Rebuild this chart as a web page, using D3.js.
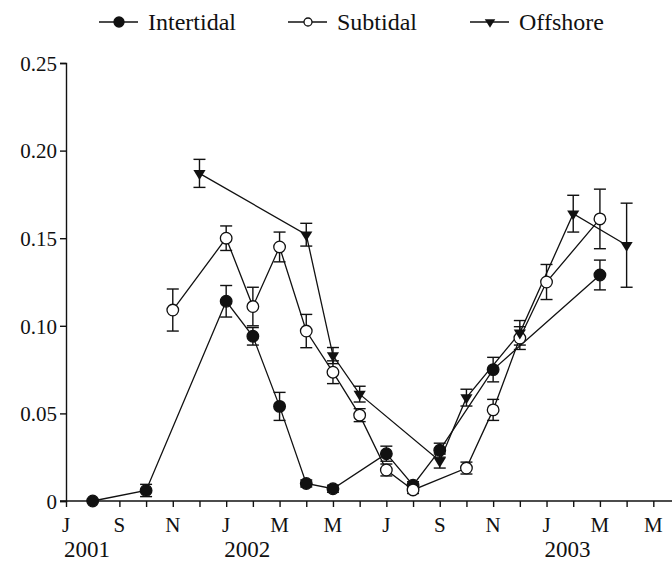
<!DOCTYPE html>
<html>
<head>
<meta charset="utf-8">
<script src="https://cdn.jsdelivr.net/npm/d3@7"></script>
<style>
  body { margin: 0; background: #fff; }
</style>
</head>
<body>
<div id="chart"></div>
<script>
// months counted from Jul 2001 (0)
var start = [2001, 7];
var serif = "Liberation Serif, DejaVu Serif, Tinos, Times New Roman, serif";

var seriesNames = ["Intertidal", "Subtidal", "Offshore"];

var intertidalMonths = ["2001-08", "2001-10", "2002-01", "2002-02", "2002-03", "2002-04", "2002-05", "2002-07", "2002-08", "2002-09", "2002-11", "2003-03"];
var intertidalValues = [0, 0.006, 0.114, 0.094, 0.054, 0.010, 0.007, 0.027, 0.009, 0.029, 0.075, 0.129];
var intertidalErrors = [0, 0.0035, 0.009, 0.005, 0.008, 0.002, 0.002, 0.0043, 0.002, 0.004, 0.007, 0.0085];

var subtidalMonths = ["2001-11", "2002-01", "2002-02", "2002-03", "2002-04", "2002-05", "2002-06", "2002-07", "2002-08", "2002-10", "2002-11", "2002-12", "2003-01", "2003-03"];
var subtidalValues = [0.109, 0.150, 0.111, 0.145, 0.097, 0.0735, 0.049, 0.0177, 0.0063, 0.0188, 0.052, 0.093, 0.125, 0.161];
var subtidalErrors = [0.012, 0.007, 0.011, 0.0085, 0.0095, 0.0065, 0.0037, 0.0034, 0.002, 0.0034, 0.006, 0.0065, 0.010, 0.017];

var offshoreMonths = ["2001-12", "2002-04", "2002-05", "2002-06", "2002-09", "2002-10", "2002-12", "2003-02", "2003-04"];
var offshoreValues = [0.187, 0.152, 0.083, 0.061, 0.0228, 0.059, 0.096, 0.164, 0.146];
var offshoreErrors = [0.008, 0.0065, 0.0046, 0.0045, 0.004, 0.0048, 0.007, 0.0105, 0.024];

var monthLetters = ["J", "S", "N", "J", "M", "M", "J", "S", "N", "J", "M", "M"];
var yearLabels = ["2001", "2002", "2003"];
var yearMonths = [0, 6, 18];
var yTicks = [0, 0.05, 0.10, 0.15, 0.20, 0.25];

function monthIndex(s) {
    var p = s.split("-");
    return (+p[0] - start[0]) * 12 + (+p[1] - start[1]);
}

function build(months, values, errors) {
    return months.map(function (m, i) {
        return { m: monthIndex(m), v: values[i], e: errors[i] };
    });
}

var series = [
    { name: "Intertidal", type: "filled", data: build(intertidalMonths, intertidalValues, intertidalErrors) },
    { name: "Subtidal", type: "open", data: build(subtidalMonths, subtidalValues, subtidalErrors) },
    { name: "Offshore", type: "tri", data: build(offshoreMonths, offshoreValues, offshoreErrors) }
];

var width = 672, height = 561;

var svg = d3.select("#chart").append("svg")
    .attr("width", width)
    .attr("height", height)
    .attr("font-family", serif);

var x = d3.scaleLinear().domain([0, 22.7]).range([66, 672]);
var y = d3.scaleLinear().domain([0, 0.25]).range([501, 63]);

// y axis
var yAxis = svg.append("g")
    .attr("transform", "translate(66,0)")
    .call(d3.axisLeft(y).tickValues(yTicks).tickSize(6).tickPadding(3)
        .tickFormat(function (d) { return d === 0 ? "0" : d3.format(".2f")(d); }));
yAxis.attr("font-family", serif).attr("font-size", 21);
yAxis.selectAll("text").attr("dy", "0.35em");

// x axis: a tick every month, labels every two months
var xAxis = svg.append("g")
    .attr("transform", "translate(0,501)")
    .call(d3.axisBottom(x).tickValues(d3.range(0, 23)).tickSize(6).tickFormat(""));
xAxis.select(".domain").attr("d", "M60,0H672");

svg.append("g").selectAll("text")
    .data(monthLetters)
    .enter()
    .append("text")
    .attr("x", function (d, i) { return x(i * 2); })
    .attr("y", 532)
    .attr("text-anchor", "middle")
    .attr("font-size", 21)
    .text(function (d) { return d; });

svg.append("g").selectAll("text")
    .data(yearLabels)
    .enter()
    .append("text")
    .attr("x", function (d, i) { return x(yearMonths[i]) - 2; })
    .attr("y", 557)
    .attr("font-size", 23)
    .text(function (d) { return d; });

svg.selectAll(".domain, .tick line").attr("stroke", "#111").attr("stroke-width", 1.4);

var line = d3.line()
    .x(function (d) { return x(d.m); })
    .y(function (d) { return y(d.v); });

// lines
svg.append("g").selectAll("path")
    .data(series)
    .enter()
    .append("path")
    .attr("d", function (s) { return line(s.data); })
    .attr("fill", "none")
    .attr("stroke", "#111")
    .attr("stroke-width", 1.3);

// error bars
series.forEach(function (s) {
    var g = svg.append("g").attr("stroke", "#111").attr("stroke-width", 1.4);
    s.data.filter(function (d) { return d.e > 0; }).forEach(function (d) {
        var cx = x(d.m), top = y(d.v + d.e), bot = y(d.v - d.e);
        g.append("line").attr("x1", cx).attr("x2", cx).attr("y1", top).attr("y2", bot);
        g.append("line").attr("x1", cx - 6).attr("x2", cx + 6).attr("y1", top).attr("y2", top);
        g.append("line").attr("x1", cx - 6).attr("x2", cx + 6).attr("y1", bot).attr("y2", bot);
    });
});

function marker(g, type, cx, cy, r) {
    if (type === "tri") {
        var w = r * 1.05, h = r * 1.7;
        g.append("path")
            .attr("d", "M" + (cx - w) + "," + (cy - h / 3) + "L" + (cx + w) + "," + (cy - h / 3) + "L" + cx + "," + (cy + 2 * h / 3) + "Z")
            .attr("fill", "#111");
    } else {
        g.append("circle")
            .attr("cx", cx).attr("cy", cy).attr("r", r)
            .attr("fill", type === "filled" ? "#111" : "#fff")
            .attr("stroke", "#111")
            .attr("stroke-width", 1.3);
    }
}

// markers
series.forEach(function (s) {
    var g = svg.append("g");
    s.data.forEach(function (d) {
        marker(g, s.type, x(d.m), y(d.v), 5.8);
    });
});

// legend
var legendX = [99, 288, 470];
var leg = svg.append("g");
series.forEach(function (s, i) {
    var lx = legendX[i];
    leg.append("line")
        .attr("x1", lx).attr("x2", lx + 39)
        .attr("y1", 22).attr("y2", 22)
        .attr("stroke", "#111").attr("stroke-width", 1.4);
    marker(leg, s.type, lx + 20, 22, s.type === "open" ? 4 : 5);
    leg.append("text")
        .attr("x", lx + 49)
        .attr("y", 30)
        .attr("font-size", 24)
        .text(s.name);
});

svg.selectAll("text").attr("fill", "#111");
</script>
</body>
</html>
